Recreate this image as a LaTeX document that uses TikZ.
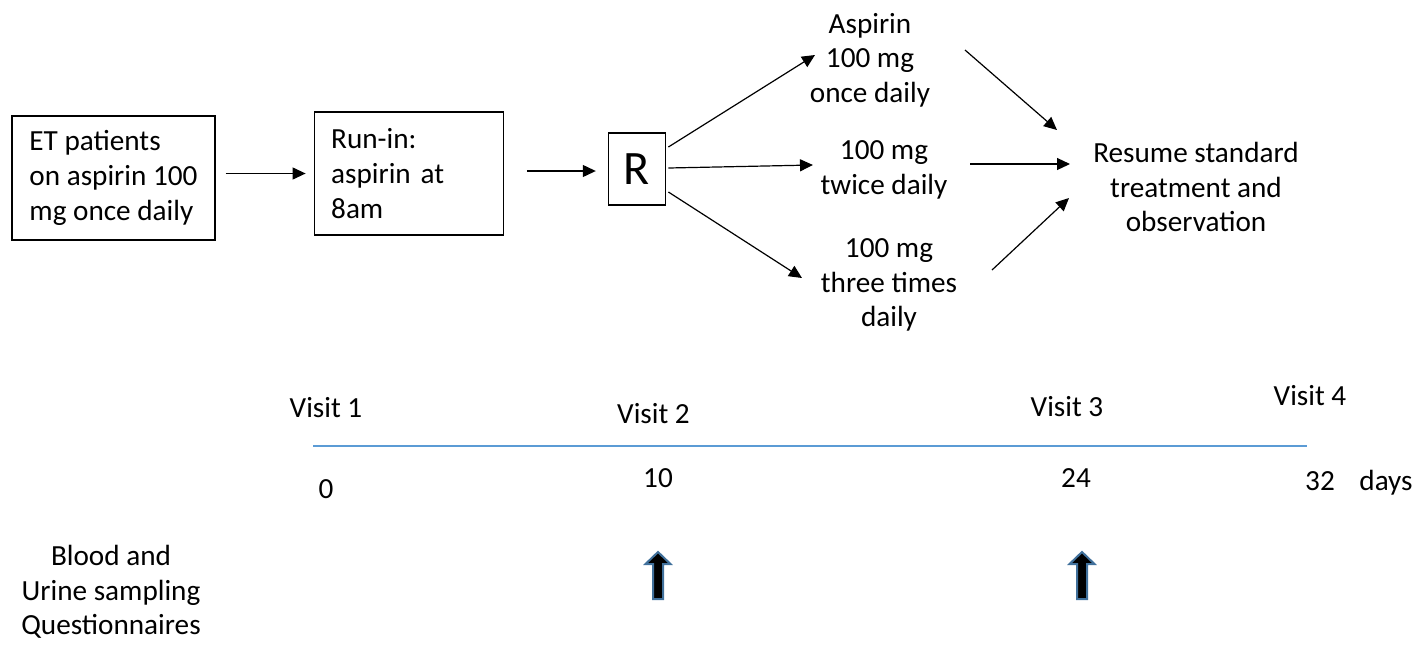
\documentclass[tikz,border=0pt]{standalone}
\usepackage{fontspec}
\setmainfont{Carlito}
\usepackage{xcolor}
\usepackage{tikz}
\usetikzlibrary{arrows.meta,positioning,calc}
\definecolor{tlblue}{RGB}{91,155,213}
\definecolor{outblue}{RGB}{65,113,156}

\begin{document}
\begin{tikzpicture}[
  x=0.5pt, y=-0.5pt,
  font=\fontsize{14.6}{17.3}\selectfont,
  box/.style={draw, rectangle, line width=0.6pt},
  lbl/.style={inner sep=0pt, align=center},
  arrow/.style={-{Triangle[length=6.5pt,width=6pt]}, line width=0.6pt},
  upblock/.style={fill=black, draw=outblue, line width=1pt}
]
\useasboundingbox (0,0) rectangle (1421,644);
% flow
\node[box, minimum width=101.5pt, minimum height=62pt, align=left] (et) at (113.5,178) {ET patients\\on aspirin 100\\mg once daily};
\node[box, minimum height=61.5pt, text width=77.5pt, inner xsep=8.5pt, align=left, right=49pt of et, yshift=2.25pt] (run) {Run-in:\\aspirin at\\8am};
\node[box, minimum width=28.5pt, minimum height=36pt, font=\fontsize{24}{28}\selectfont, right=52pt of run, yshift=2.25pt] (R) {R};
\node[lbl] (a1) at (870,60) {Aspirin\\100 mg\\once daily};
\node[lbl] (a2) at (884,170) {100 mg\\twice daily};
\node[lbl] (a3) at (889,285) {100 mg\\three times\\daily};
\node[lbl] (resume) at (1196,187) {Resume standard\\treatment and\\observation};
\draw[arrow] ($(et.east)+(10,-4.5)$) -- ($(run.west)+(-8,0)$);
\draw[arrow] ($(run.east)+(23,-2.5)$) -- ($(R.west)+(-12,2)$);
\draw[arrow] ($(R.center)+(31.5,-22)$) -- ($(a1.center)+(-55,-5)$);
\draw[arrow] ($(R.center)+(31.5,-1)$) -- ($(a2.center)+(-71,-5)$);
\draw[arrow] ($(R.center)+(31.5,23)$) -- ($(a3.center)+(-87,-7)$);
\draw[arrow] ($(a1.center)+(95,-10)$) -- ($(resume.center)+(-139,-57)$);
\draw[arrow] ($(a2.center)+(86,-6)$) -- ($(resume.center)+(-126,-23)$);
\draw[arrow] ($(a3.center)+(103,-15)$) -- ($(resume.center)+(-127,11)$);
% timeline
\node[anchor=base] (v1) at (326,417) {Visit 1};
\node[anchor=base] (v2) at (653.5,423) {Visit 2};
\node[anchor=base] (v3) at (1067,416) {Visit 3};
\node[anchor=base] (v4) at (1310,405) {Visit 4};
\coordinate (t0) at (313,446);
\coordinate (t1) at (1307,446);
\draw[tlblue, line width=0.8pt] (t0) -- (t1);
\node[anchor=base] (d0) at (326,498) {0};
\node[anchor=base] (d10) at (658,487) {10};
\node[anchor=base] (d24) at (1076,487) {24};
\node[anchor=base] (d32) at (1320,490) {32};
\node[anchor=base] (days) at (1386,490) {days};
% sampling
\node[lbl] (samp) at (111,592) {Blood and\\Urine sampling\\Questionnaires};
\foreach \x in {658,1082}
  \filldraw[upblock] (\x-5,599) -- (\x-5,564) -- (\x-12.5,564) -- (\x,552) -- (\x+12.5,564) -- (\x+5,564) -- (\x+5,599) -- cycle;
\end{tikzpicture}
\end{document}
